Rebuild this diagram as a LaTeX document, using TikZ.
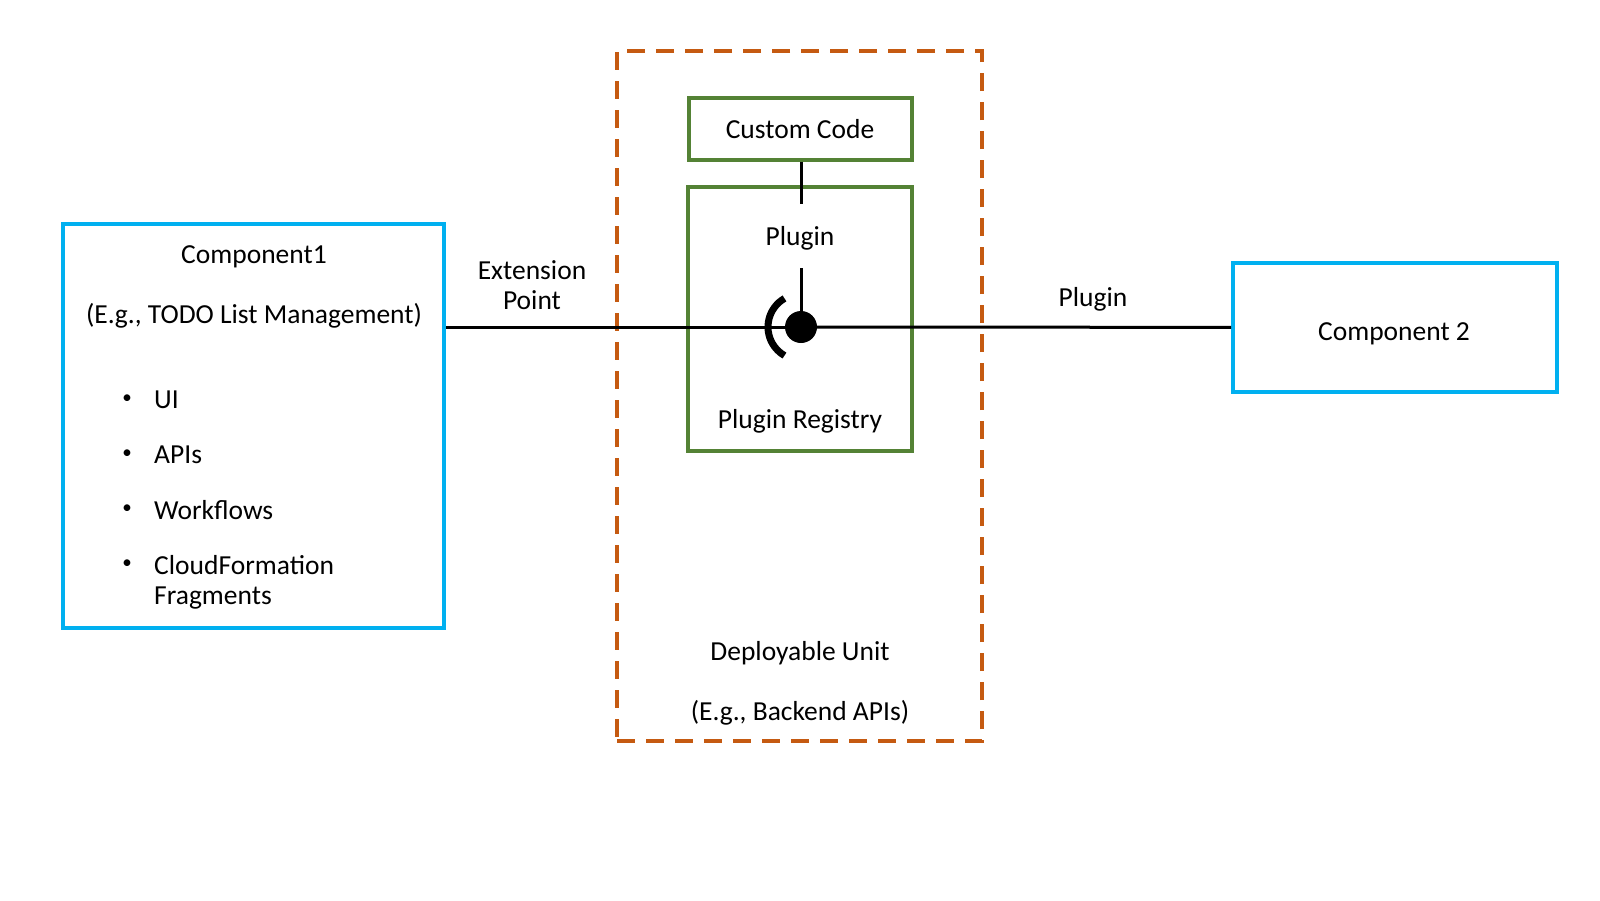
\documentclass[tikz,border=0pt]{standalone}
\usepackage{fontspec}
\setmainfont{Carlito}
\definecolor{cblue}{HTML}{00B0F0}
\definecolor{cgreen}{HTML}{548235}
\definecolor{corange}{HTML}{C55A11}
\tikzset{
  txt/.style={font=\fontsize{27.5}{30}\selectfont, inner sep=0pt, text=black},
  bul/.style={font=\fontsize{19}{20}\selectfont, inner sep=0pt, text=black},
  bluebox/.style={draw=cblue, line width=4pt, rectangle, inner sep=0pt},
  greenbox/.style={draw=cgreen, line width=3.5pt, rectangle, inner sep=0pt},
  unitbox/.style={draw=corange, line width=3.5pt, rectangle, inner sep=0pt, dash pattern=on 18pt off 11pt},
  conn/.style={draw=black, line width=3pt},
}
\begin{document}
\begin{tikzpicture}[x=1pt,y=-1pt]
\useasboundingbox (0,0) rectangle (1600,900);
% boxes
\node[unitbox, minimum width=365pt, minimum height=690pt] (unit) at (799.5,396) {};
\node[bluebox, minimum width=381pt, minimum height=404pt] (c1) at (253.5,426) {};
\node[greenbox, minimum width=223pt, minimum height=62pt] (cc) at (800.5,129) {};
\node[greenbox, minimum width=224pt, minimum height=264pt] (reg) at (800,319) {};
\node[bluebox, minimum width=324pt, minimum height=129pt] (c2) at (1395,327.5) {};
% socket symbol
\node[circle, fill=black, minimum size=32pt, inner sep=0pt] (socket) at (801,327) {};
\draw[line width=7pt] (socket.center) ++(120:33pt) arc[start angle=120, end angle=240, radius=33pt];
% connectors
\coordinate (stubA) at (801,204);
\coordinate (stubB) at (801,268);
\draw[conn] (c1.east |- socket) -- (socket);
\draw[conn] (socket) -- (c2);
\draw[conn] (cc.south -| stubA) -- (stubA);
\draw[conn] (stubB) -- (socket);
% texts
\node[txt] (c1t) at (254,257) {Component1};
\node[txt] (c1e) at (254,316) {(E.g., TODO List Management)};
\node[bul] (b1) at (127,399) {•};
\node[bul] (b2) at (127,454) {•};
\node[bul] (b3) at (127,509) {•};
\node[bul] (b4) at (127,564) {•};
\node[txt, anchor=west] (l1) at (154,400) {UI};
\node[txt, anchor=west] (l2) at (154,455) {APIs};
\node[txt, anchor=west] (l3) at (154,510) {Workflows};
\node[txt, anchor=west] (l4) at (154,565) {CloudFormation};
\node[txt, anchor=west] (l5) at (154,598) {Fragments};
\node[txt, align=center] (ext) at (532,285) {Extension\\Point};
\node[txt] (plab) at (1093,299) {Plugin};
\node[txt] (pin) at (800,238) {Plugin};
\node[txt] (regt) at (800,421) {Plugin Registry};
\node[txt] (cct) at (800,129) {Custom Code};
\node[txt] (c2t) at (1394,334) {Component 2};
\node[txt] (du1) at (800,653) {Deployable Unit};
\node[txt] (du2) at (800,713) {(E.g., Backend APIs)};
\end{tikzpicture}
\end{document}
